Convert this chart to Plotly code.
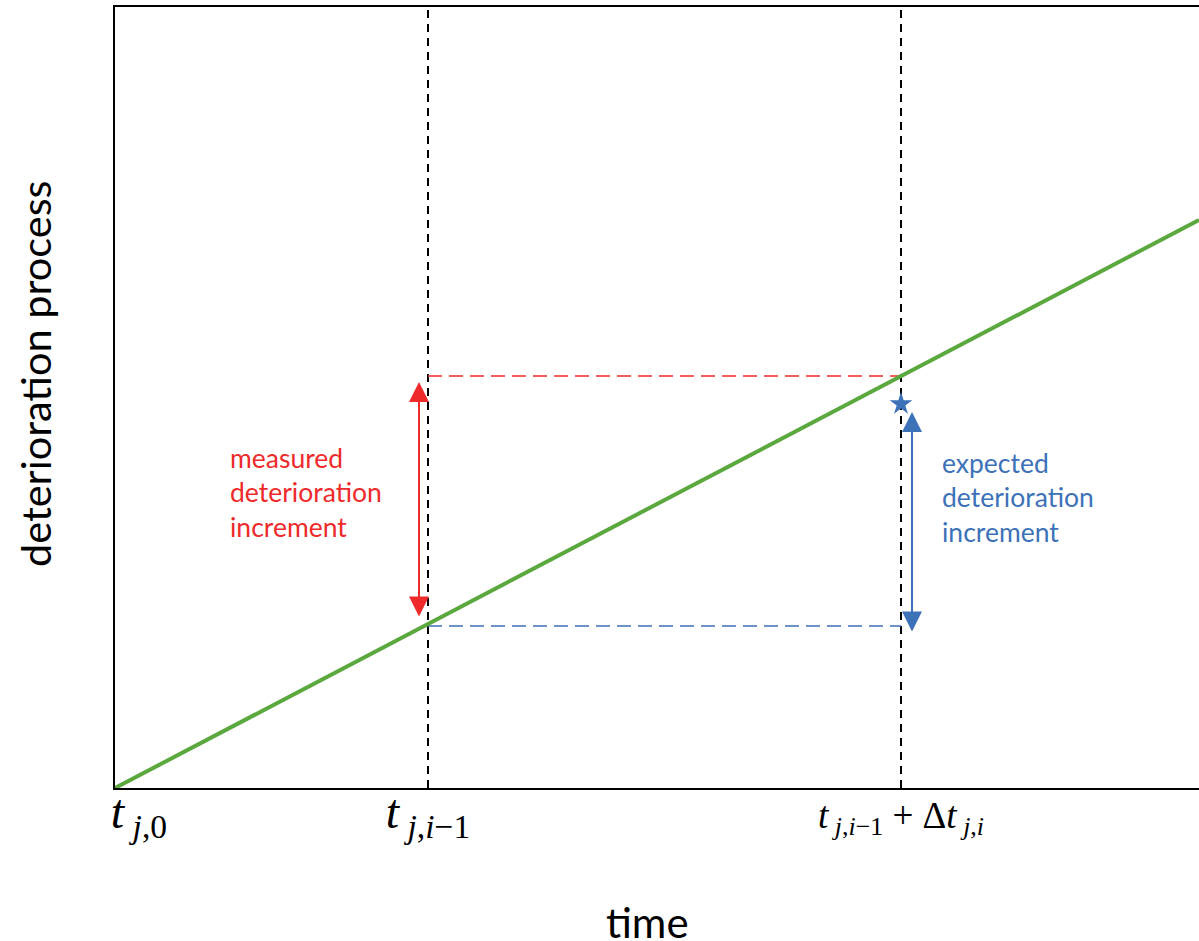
import plotly.graph_objects as go

NB = "\u00a0"

# time positions (axis units)
tick_times = [0.0, 3.13, 7.86]
tick_labels = [
    NB * 4 + "<i>t</i><sub> <i>j</i>,0</sub>",
    "<i>t</i><sub> <i>j</i>,<i>i</i>\u22121</sub>",
    "<span style='font-size:37px'><i>t</i><sub> <i>j</i>,<i>i</i>\u22121</sub>" + NB + "+" + NB
    + "\u0394<i>t</i><sub> <i>j</i>,<i>i</i></sub></span>",
]
t_max = 10.84
y_max = 7.81

# deterioration path (green)
path_t = [0.0, 3.13, 7.86, 10.84]
path_y = [0.0, 1.64, 4.12, 5.68]

# measured / expected levels
measured_level = 4.12
expected_base = 1.62
star_t, star_y = 7.86, 3.84

# arrows (tips)
red_arrow_t, red_arrow_top, red_arrow_bot = 3.04, 4.06, 1.70
blue_arrow_t, blue_arrow_top, blue_arrow_bot = 7.97, 3.76, 1.55

GREEN = "#5aa83e"
RED = "#ee2a2a"
BLUE = "#3d72b8"

fig = go.Figure()

# vertical dashed lines
for t in tick_times[1:]:
    fig.add_trace(go.Scatter(x=[t, t], y=[0, y_max], mode="lines",
                             line=dict(color="black", width=2, dash="8px,6px"),
                             hoverinfo="skip", showlegend=False))

# horizontal dashed lines
fig.add_trace(go.Scatter(x=[tick_times[1], tick_times[2]], y=[measured_level, measured_level],
                         mode="lines", line=dict(color=RED, width=1.5, dash="14px,7px"),
                         showlegend=False, hoverinfo="skip"))
fig.add_trace(go.Scatter(x=[tick_times[1], tick_times[2]], y=[expected_base, expected_base],
                         mode="lines", line=dict(color=BLUE, width=1.5, dash="14px,7px"),
                         showlegend=False, hoverinfo="skip"))

# green path
fig.add_trace(go.Scatter(x=path_t, y=path_y, mode="lines",
                         line=dict(color=GREEN, width=4), showlegend=False))

# star
fig.add_trace(go.Scatter(x=[star_t], y=[star_y], mode="markers",
                         marker=dict(symbol="star", size=17, color=BLUE),
                         showlegend=False))

# double arrows
fig.add_annotation(x=red_arrow_t, y=red_arrow_top, ax=red_arrow_t, ay=red_arrow_bot,
                   xref="x", yref="y", axref="x", ayref="y", text="",
                   showarrow=True, arrowhead=2, startarrowhead=2, arrowside="end+start",
                   arrowsize=2, startarrowsize=2, arrowwidth=2, arrowcolor=RED,
                   standoff=0, startstandoff=0)
fig.add_annotation(x=blue_arrow_t, y=blue_arrow_top, ax=blue_arrow_t, ay=blue_arrow_bot,
                   xref="x", yref="y", axref="x", ayref="y", text="",
                   showarrow=True, arrowhead=2, startarrowhead=2, arrowside="end+start",
                   arrowsize=2, startarrowsize=2, arrowwidth=2, arrowcolor=BLUE,
                   standoff=0, startstandoff=0)

# labels
fig.add_annotation(x=1.13, y=2.96, xref="x", yref="y", text="measured<br>deterioration<br>increment",
                   showarrow=False, xanchor="left", yanchor="middle", align="left",
                   font=dict(family="Lato", size=26.5, color=RED))
fig.add_annotation(x=8.25, y=2.91, xref="x", yref="y", text="expected<br>deterioration<br>increment",
                   showarrow=False, xanchor="left", yanchor="middle", align="left",
                   font=dict(family="Lato", size=26.5, color=BLUE))

# axis titles
fig.add_annotation(x=-0.0738, y=0.530, xref="paper", yref="paper", text="deterioration process",
                   showarrow=False, textangle=-90, xanchor="center", yanchor="middle",
                   font=dict(family="Lato", size=41.5, color="black"))
fig.add_annotation(x=0.4908, y=-0.1716, xref="paper", yref="paper", text="time",
                   showarrow=False, xanchor="center", yanchor="middle",
                   font=dict(family="Lato", size=42, color="black"))

fig.update_layout(
    width=1199, height=941,
    margin=dict(l=115, r=0, t=7, b=153),
    paper_bgcolor="white", plot_bgcolor="white",
    xaxis=dict(range=[0, t_max], showgrid=False, zeroline=False,
               showline=True, linecolor="black", linewidth=2, mirror=True,
               tickmode="array", tickvals=tick_times, ticktext=tick_labels,
               ticks="", ticklabelstandoff=-20,
               tickfont=dict(family="Liberation Serif", size=48, color="black")),
    yaxis=dict(range=[0, y_max], showgrid=False, zeroline=False,
               showline=True, linecolor="black", linewidth=2,
               showticklabels=False, ticks=""),
)

fig.write_html("out.html", config={"displayModeBar": False},
               post_script="document.body.style.margin='0';document.body.style.overflow='hidden';")
